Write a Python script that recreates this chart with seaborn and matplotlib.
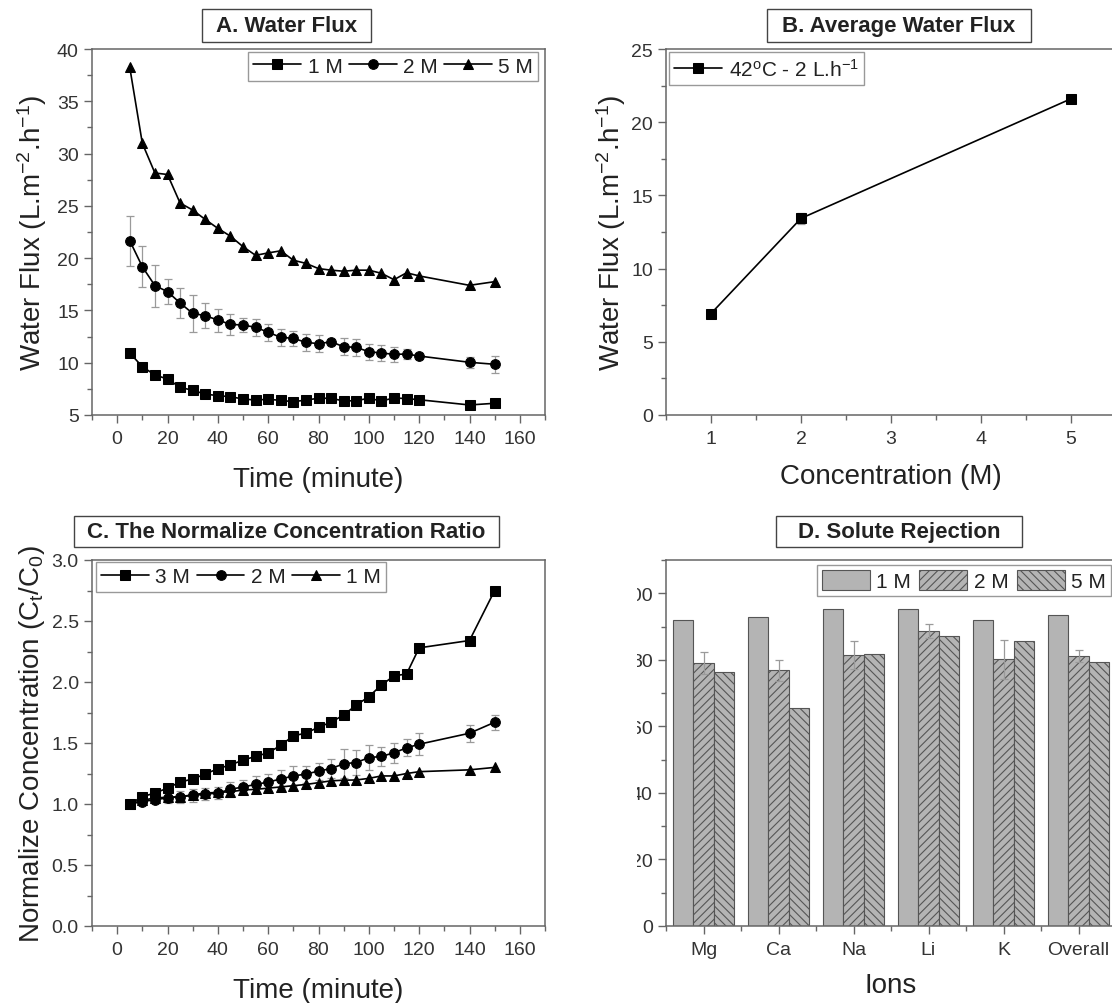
import pandas as pd
import seaborn as sns
import matplotlib.pyplot as plt
from matplotlib.patches import Rectangle
from matplotlib.ticker import MultipleLocator

# ---- data ----
# A. water flux vs time
time_a = [5, 10, 15, 20, 25, 30, 35, 40, 45, 50, 55, 60, 65, 70, 75, 80,
          85, 90, 95, 100, 105, 110, 115, 120, 140, 150]
flux_1m = [10.93, 9.62, 8.83, 8.44, 7.65, 7.36, 7.0, 6.85, 6.75, 6.53, 6.43, 6.5, 6.4,
           6.27, 6.43, 6.6, 6.6, 6.34, 6.37, 6.6, 6.34, 6.63, 6.57, 6.46, 5.96, 6.12]
flux_2m = [21.67, 19.18, 17.37, 16.8, 15.71, 14.72, 14.5, 14.08, 13.67, 13.6, 13.39, 12.91, 12.43,
           12.33, 11.95, 11.82, 12.0, 11.53, 11.47, 11.05, 10.93, 10.8, 10.83, 10.64, 10.04, 9.85]
flux_2m_err = [2.4, 1.95, 2.0, 1.2, 1.4, 1.8, 1.2, 1.1, 1.0, 0.7, 0.8, 0.8, 0.8,
               0.7, 0.8, 0.8, 0.3, 0.8, 0.8, 0.75, 0.75, 0.75, 0.45, 0.3, 0.55, 0.8]
flux_5m = [38.25, 30.98, 28.14, 28.0, 25.27, 24.6, 23.7, 22.85, 22.1, 21.1, 20.27, 20.5, 20.7,
           19.8, 19.5, 19.0, 18.85, 18.75, 18.85, 18.85, 18.55, 17.94, 18.6, 18.3, 17.4, 17.75]

# B. average water flux vs concentration
conc_b = [1, 2, 5]
avg_flux = [6.93, 13.43, 21.6]
avg_flux_err = [0.15, 0.4, 0.15]

# C. normalized concentration ratio
ratio_3m = [1.0, 1.06, 1.09, 1.13, 1.18, 1.205, 1.245, 1.29, 1.32, 1.36, 1.39, 1.42, 1.48,
            1.56, 1.58, 1.63, 1.67, 1.73, 1.81, 1.88, 1.975, 2.05, 2.066, 2.28, 2.34, 2.75]
ratio_2m = [1.0, 1.02, 1.035, 1.05, 1.06, 1.07, 1.08, 1.09, 1.12, 1.14, 1.16, 1.18, 1.205,
            1.23, 1.245, 1.27, 1.29, 1.33, 1.34, 1.38, 1.39, 1.42, 1.46, 1.49, 1.58, 1.67]
ratio_2m_err = [0.01, 0.02, 0.03, 0.04, 0.05, 0.05, 0.05, 0.05, 0.06, 0.06, 0.07, 0.07, 0.07,
                0.08, 0.07, 0.07, 0.08, 0.12, 0.1, 0.1, 0.08, 0.08, 0.07, 0.09, 0.07, 0.06]
ratio_1m = [1.0, 1.03, 1.05, 1.055, 1.06, 1.075, 1.09, 1.095, 1.1, 1.115, 1.12, 1.13, 1.14,
            1.15, 1.16, 1.175, 1.19, 1.195, 1.197, 1.21, 1.23, 1.23, 1.25, 1.265, 1.28, 1.3]

# D. solute rejection
ions = ['Mg', 'Ca', 'Na', 'Li', 'K', 'Overall']
rej_1m = [92.0, 93.0, 95.2, 95.2, 92.0, 93.5]
rej_2m = [79.0, 76.8, 81.4, 88.7, 80.2, 81.1]
rej_2m_err = [3.4, 3.1, 4.3, 2.2, 5.9, 1.9]
rej_5m = [76.2, 65.6, 81.7, 87.2, 85.7, 79.4]

# ---- style ----
sns.set_style('ticks')
plt.rcParams['font.family'] = ['Liberation Sans', 'DejaVu Sans']
plt.rcParams['mathtext.fontset'] = 'custom'
plt.rcParams['mathtext.rm'] = 'Liberation Sans'
plt.rcParams['mathtext.it'] = 'Liberation Sans:italic'
plt.rcParams['mathtext.bf'] = 'Liberation Sans:bold'
plt.rcParams['hatch.linewidth'] = 0.8

W, H = 1112, 1004
fig = plt.figure(figsize=(W / 100, H / 100), dpi=100)

SPINE = '#666666'
TXT = '#222222'
ERRC = '#9a9a9a'


def add_axes_px(left, top, right, bottom):
    return fig.add_axes([left / W, 1 - bottom / H, (right - left) / W, (bottom - top) / H])


def title_box(text, left, top, right, bottom):
    fig.add_artist(Rectangle((left / W, 1 - bottom / H), (right - left) / W, (bottom - top) / H,
                             transform=fig.transFigure, fc='white', ec='#444444', lw=1.0))
    fig.text((left + right) / 2 / W, 1 - (top + bottom) / 2 / H, text, ha='center',
             va='center', fontsize=16, fontweight='bold', color=TXT)


def style_axes(ax, xmaj, xmin, ymaj, ymin):
    if xmaj:
        ax.xaxis.set_major_locator(MultipleLocator(xmaj))
        ax.xaxis.set_minor_locator(MultipleLocator(xmin))
    ax.yaxis.set_major_locator(MultipleLocator(ymaj))
    ax.yaxis.set_minor_locator(MultipleLocator(ymin))
    ax.tick_params(which='both', direction='out', top=False, right=False, color=SPINE,
                   labelsize=14, labelcolor='#333333', width=1.0)
    ax.tick_params(which='major', length=6)
    ax.tick_params(which='minor', length=3.5)
    ax.tick_params(axis='x', which='major', pad=5)
    for sp in ax.spines.values():
        sp.set_color(SPINE)
        sp.set_linewidth(1.1)


def legend(ax, handles, labels, loc, anchor, ncol, **kw):
    opts = dict(fontsize=15, frameon=True, fancybox=False, framealpha=1, edgecolor='#999999',
                borderaxespad=0, borderpad=0.25, handletextpad=0.3, columnspacing=0.3,
                handlelength=2.3)
    opts.update(kw)
    leg = ax.legend(handles, labels, loc=loc, bbox_to_anchor=anchor, ncol=ncol, **opts)
    leg.get_frame().set_linewidth(1.0)
    for t in leg.get_texts():
        t.set_color(TXT)
    return leg


def line(ax, x, y, marker, ms, label):
    sns.lineplot(x=x, y=y, ax=ax, color='black', marker=marker, markersize=ms,
                 markeredgecolor='black', linewidth=1.2, label=label, legend=False, zorder=3)


# ---- A ----
ax_a = add_axes_px(92, 50, 545, 416)
ax_a.errorbar(time_a, flux_2m, yerr=flux_2m_err, fmt='none', ecolor=ERRC, elinewidth=0.9,
              capsize=3, capthick=0.9, zorder=1)
line(ax_a, time_a, flux_1m, 's', 6.5, '1 M')
line(ax_a, time_a, flux_2m, 'o', 7, '2 M')
line(ax_a, time_a, flux_5m, '^', 7.5, '5 M')
ax_a.set_xlim(-10, 170)
ax_a.set_ylim(5, 40)
style_axes(ax_a, 20, 10, 5, 2.5)
ax_a.set_xlabel('Time (minute)', fontsize=20, color=TXT)
ax_a.set_ylabel('Water Flux (L.m$^{-2}$.h$^{-1}$)', fontsize=20, color=TXT)
ax_a.xaxis.set_label_coords(0.5, -0.14)
ax_a.yaxis.set_label_coords(-0.095, 0.5)
h, l = ax_a.get_legend_handles_labels()
legend(ax_a, h, l, 'upper right', (0.985, 0.993), 3)

# ---- B ----
ax_b = add_axes_px(666, 50, 1116, 416)
ax_b.errorbar(conc_b, avg_flux, yerr=avg_flux_err, fmt='none', ecolor=ERRC, elinewidth=0.9,
              capsize=3, capthick=0.9, zorder=1)
line(ax_b, conc_b, avg_flux, 's', 6.5, '42$^{\\mathrm{o}}$C - 2 L.h$^{-1}$')
ax_b.set_xlim(0.5, 5.5)
ax_b.set_ylim(0, 25)
style_axes(ax_b, 1, 0.5, 5, 2.5)
ax_b.set_xlabel('Concentration (M)', fontsize=20, color=TXT)
ax_b.set_ylabel('Water Flux (L.m$^{-2}$.h$^{-1}$)', fontsize=20, color=TXT)
ax_b.xaxis.set_label_coords(0.5, -0.13)
ax_b.yaxis.set_label_coords(-0.085, 0.5)
h, l = ax_b.get_legend_handles_labels()
legend(ax_b, h, l, 'upper left', (0.007, 0.991), 1)

# ---- C ----
ax_c = add_axes_px(92, 561, 545, 927)
ax_c.errorbar(time_a, ratio_2m, yerr=ratio_2m_err, fmt='none', ecolor=ERRC, elinewidth=0.9,
              capsize=3, capthick=0.9, zorder=1)
line(ax_c, time_a, ratio_3m, 's', 6.5, '3 M')
line(ax_c, time_a, ratio_2m, 'o', 7, '2 M')
line(ax_c, time_a, ratio_1m, '^', 7.5, '1 M')
ax_c.set_xlim(-10, 170)
ax_c.set_ylim(0, 3)
style_axes(ax_c, 20, 10, 0.5, 0.25)
ax_c.yaxis.set_major_formatter(plt.FormatStrFormatter('%.1f'))
ax_c.set_xlabel('Time (minute)', fontsize=20, color=TXT)
ax_c.set_ylabel('Normalize Concentration (C$_{\\mathrm{t}}$/C$_0$)', fontsize=20, color=TXT)
ax_c.xaxis.set_label_coords(0.5, -0.14)
ax_c.yaxis.set_label_coords(-0.1, 0.5)
h, l = ax_c.get_legend_handles_labels()
legend(ax_c, h, l, 'upper left', (0.009, 0.994), 3)

# ---- D ----
ax_d = add_axes_px(666, 561, 1116, 927)
df_d = pd.DataFrame({
    'ion': ions * 3,
    'rej': rej_1m + rej_2m + rej_5m,
    'conc': ['1 M'] * len(ions) + ['2 M'] * len(ions) + ['5 M'] * len(ions),
})
sns.barplot(data=df_d, x='ion', y='rej', hue='conc', ax=ax_d, palette=['#b4b4b4'] * 3,
            saturation=1, width=0.81, edgecolor='#555555', linewidth=0.8, legend=False,
            errorbar=None, zorder=2)
for cont, hatch in zip(ax_d.containers, ['', '////', '\\\\\\\\']):
    for bar in cont:
        bar.set_hatch(hatch)
mid = [b.get_x() + b.get_width() / 2 for b in ax_d.containers[1]]
ax_d.errorbar(mid, rej_2m, yerr=rej_2m_err, fmt='none', ecolor=ERRC, elinewidth=0.9,
              capsize=3, capthick=0.9, zorder=3)
ax_d.set_xlim(-0.5, 5.5)
ax_d.set_ylim(0, 110)
style_axes(ax_d, None, None, 20, 10)
ax_d.xaxis.set_minor_locator(MultipleLocator(1, offset=0.5))
ax_d.set_xlabel('Ions', fontsize=20, color=TXT)
ax_d.set_ylabel('')
ax_d.xaxis.set_label_coords(0.5, -0.125)
legend(ax_d, [c[0] for c in ax_d.containers], ['1 M', '2 M', '5 M'], 'upper left',
       (0.335, 0.987), 3, handleheight=1.1, columnspacing=0.4)

# the D panel's left edge is cropped in the original
fig.add_artist(Rectangle((585 / W, 0), 52 / W, (H - 555) / H, transform=fig.transFigure,
                         fc='white', ec='none', zorder=20))

title_box('A. Water Flux', 202, 10, 371, 43)
title_box('B. Average Water Flux', 767, 10, 1031, 43)
title_box('C. The Normalize Concentration Ratio', 74, 517, 499, 548)
title_box('D. Solute Rejection', 776, 517, 1022, 548)

fig.savefig('out.png', dpi=100)
